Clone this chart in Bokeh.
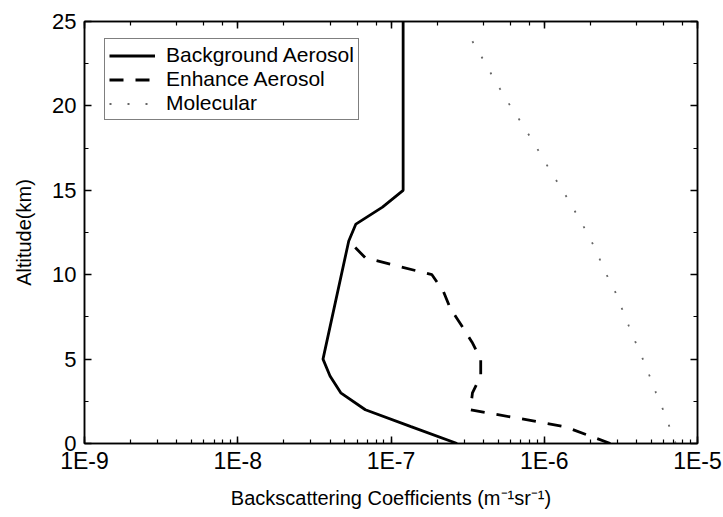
from bokeh.plotting import figure
from bokeh.models import (LogAxis, LinearAxis, LogTicker, SingleIntervalTicker,
                          CustomJSTickFormatter, Legend, LegendItem)
from bokeh.embed import file_html
from bokeh.resources import INLINE

# ---------------- data ----------------
bg_alt = [0, 1, 2, 3, 4, 5, 12, 13, 14, 15, 25]
bg_val = [2.7e-7, 1.35e-7, 6.8e-8, 4.7e-8, 4.0e-8, 3.6e-8, 5.3e-8, 5.9e-8, 8.8e-8, 1.2e-7, 1.2e-7]

en_alt = [0, 1, 2, 3, 4, 5, 6, 7, 8, 9, 10, 11, 12]
en_val = [2.7e-6, 1.36e-6, 3.3e-7, 3.4e-7, 3.85e-7, 3.85e-7, 3.38e-7, 2.88e-7,
          2.44e-7, 2.2e-7, 1.85e-7, 6.8e-8, 5.3e-8]

mol_alt = list(range(0, 25))
mol_val = [7.2e-6, 6.56e-6, 5.96e-6, 5.36e-6, 4.87e-6, 4.4e-6, 3.94e-6, 3.55e-6,
           3.21e-6, 2.9e-6, 2.55e-6, 2.28e-6, 2.03e-6, 1.77e-6, 1.53e-6, 1.32e-6,
           1.12e-6, 9.66e-7, 8.3e-7, 7.1e-7, 6.0e-7, 5.15e-7, 4.44e-7, 3.85e-7, 3.31e-7]

series_names = ["Background Aerosol", "Enhance Aerosol", "Molecular"]
x_title = "Backscattering Coefficients (m\u207b\u00b9sr\u207b\u00b9)"
y_title = "Altitude(km)"

FONT = "Liberation Sans"

p = figure(width=723, height=517, x_axis_type="log",
           x_range=(1e-9, 1e-5), y_range=(0, 25),
           output_backend="svg", toolbar_location=None,
           min_border_left=84, min_border_right=26,
           min_border_top=21, min_border_bottom=74)

p.xgrid.grid_line_color = None
p.ygrid.grid_line_color = None
p.outline_line_color = "black"
p.outline_line_width = 1.5
p.background_fill_color = "white"
p.border_fill_color = "white"

r_bg = p.line(bg_val, bg_alt, line_color="black", line_width=2.8)
r_en = p.line(en_val, en_alt, line_color="black", line_width=2.8, line_dash="14 12")
r_mol = p.line(mol_val, mol_alt, line_color="#666666", line_width=1.8, line_dash="2 16")

# axes styling
xa = p.xaxis[0]
ya = p.yaxis[0]
xa.formatter = CustomJSTickFormatter(code="return '1E' + Math.round(Math.log10(tick));")
ya.ticker = SingleIntervalTicker(interval=5, num_minor_ticks=2)

for ax in (xa, ya):
    ax.major_tick_in = 7
    ax.major_tick_out = 0
    ax.minor_tick_in = 4
    ax.minor_tick_out = 0
    ax.axis_line_width = 1.5
    ax.major_tick_line_width = 1.5
    ax.minor_tick_line_width = 1.2
    ax.major_label_text_font = FONT
    ax.major_label_text_color = "black"
    ax.axis_label_text_font = FONT
    ax.axis_label_text_font_size = "20px"
    ax.axis_label_text_font_style = "normal"
    ax.axis_label_text_color = "black"

xa.major_label_text_font_size = "23px"
ya.major_label_text_font_size = "22px"
xa.axis_label = x_title
ya.axis_label = y_title
xa.major_label_standoff = 4
xa.axis_label_standoff = 10
ya.major_label_standoff = 8
ya.axis_label_standoff = 14

# mirror axes (ticks only)
top = LogAxis(ticker=LogTicker())
right = LinearAxis(ticker=SingleIntervalTicker(interval=5, num_minor_ticks=2))
for ax in (top, right):
    ax.major_tick_in = 7
    ax.major_tick_out = 0
    ax.minor_tick_in = 4
    ax.minor_tick_out = 0
    ax.axis_line_width = 1.5
    ax.major_tick_line_width = 1.5
    ax.minor_tick_line_width = 1.2
    ax.formatter = CustomJSTickFormatter(code="return '';")
    ax.major_label_text_font_size = "8px"
    ax.major_label_text_color = None
    ax.major_label_standoff = 0
p.add_layout(top, "above")
p.add_layout(right, "right")

legend = Legend(items=[LegendItem(label=series_names[0], renderers=[r_bg]),
                       LegendItem(label=series_names[1], renderers=[r_en]),
                       LegendItem(label=series_names[2], renderers=[r_mol])],
                location=(20, 323))
legend.label_text_font = FONT
legend.label_text_font_size = "21px"
legend.label_text_color = "black"
legend.border_line_color = "black"
legend.border_line_width = 1.5
legend.background_fill_color = "white"
legend.background_fill_alpha = 1.0
legend.glyph_width = 46
legend.glyph_height = 23
legend.label_height = 23
legend.label_standoff = 11
legend.padding = 4
legend.spacing = 0
legend.margin = 0
p.add_layout(legend, "center")

open("out.html", "w").write(file_html(p, INLINE))
